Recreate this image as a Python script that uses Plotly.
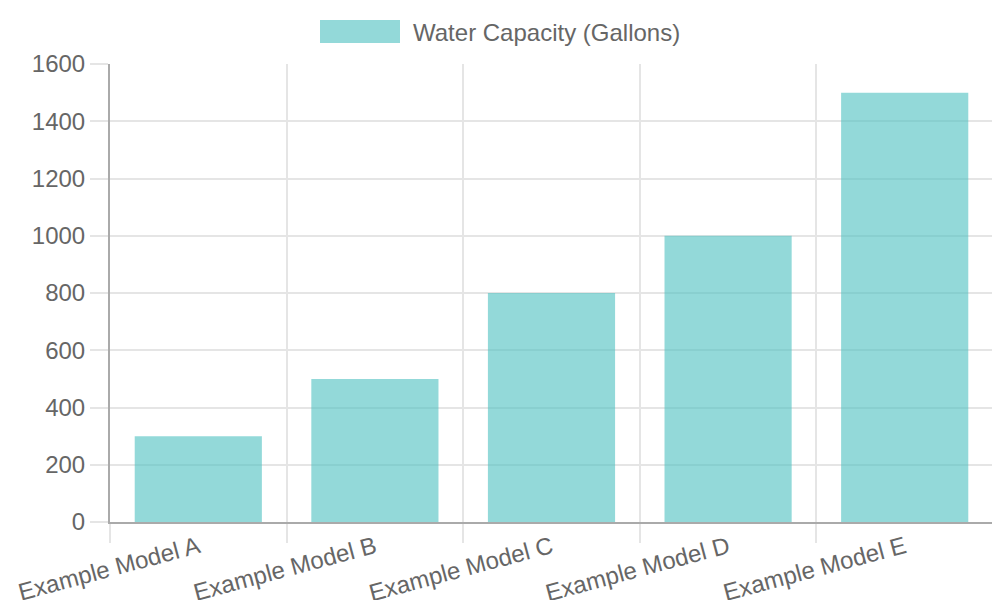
import plotly.graph_objects as go

# bar chart data
models = ['Example Model A', 'Example Model B', 'Example Model C', 'Example Model D', 'Example Model E']
capacity = [300, 500, 800, 1000, 1500]
series_name = 'Water Capacity (Gallons)'
y_ticks = [0, 200, 400, 600, 800, 1000, 1200, 1400, 1600]

bar_color = 'rgba(75,192,192,0.6)'
grid_color = '#e5e5e5'
text_color = '#666666'

fig = go.Figure()
fig.add_trace(go.Bar(x=models, y=capacity, name=series_name,
                     marker=dict(color=bar_color, line=dict(width=0)),
                     width=0.72, showlegend=False))

# page body adds 8px offset, margins compensate for it
fig.update_layout(
    width=1000, height=600,
    margin=dict(l=102, r=15, t=56, b=86, autoexpand=False),
    paper_bgcolor='white', plot_bgcolor='white',
    font=dict(family='Liberation Sans, Arial, sans-serif', size=24, color=text_color),
)
fig.update_xaxes(type='category', tickson='boundaries', showgrid=True, gridcolor=grid_color, gridwidth=2,
                 ticks='outside', ticklen=19, tickcolor=grid_color, tickwidth=2, tickangle=-15,
                 showline=True, linecolor='#aaaaaa', linewidth=2,
                 range=[-0.5, 4.5], tickfont=dict(size=24, color=text_color))
fig.update_yaxes(range=[0, 1600], tickvals=y_ticks, showgrid=True, gridcolor=grid_color, gridwidth=2,
                 ticks='outside', ticklen=18, tickcolor=grid_color, tickwidth=2,
                 showline=True, linecolor='#aaaaaa', linewidth=2, zeroline=False,
                 tickfont=dict(size=24, color=text_color))

# chart.js style legend at top
fig.add_shape(type='rect', xref='paper', yref='paper',
              x0=(320 - 110) / 883, x1=(400 - 110) / 883,
              y0=(522 - 43) / 458, y1=(522 - 20) / 458,
              fillcolor=bar_color, line=dict(width=0))
fig.add_annotation(text=series_name, xref='paper', yref='paper',
                   x=(411 - 110) / 883, y=(522 - 32) / 458, xanchor='left', yanchor='middle',
                   showarrow=False, font=dict(size=24, color=text_color))

fig.write_html('out.html')
